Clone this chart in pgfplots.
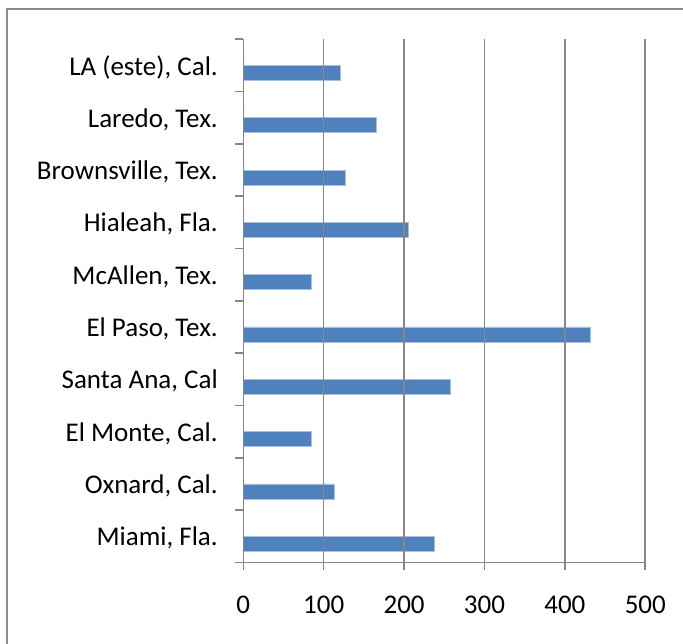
\documentclass[border=0pt]{standalone}
\usepackage{pgfplots}
\pgfplotsset{compat=1.18}
\usepackage{fontspec}
\setmainfont{Carlito}
\definecolor{barblue}{HTML}{4F81BD}
\definecolor{baredge}{HTML}{A9C1DF}
\definecolor{barred}{HTML}{C0504D}
\definecolor{gridgray}{HTML}{868686}
\definecolor{framegray}{HTML}{8C8C8C}
\begin{document}
\begin{tikzpicture}[x=1pt,y=1pt]
\useasboundingbox (0,0) rectangle (683,643);
% chart area frame (only its left and top edges fall inside the page)
\begin{scope}
\clip (0,0) rectangle (683,643);
\draw[framegray, line width=1.6pt] (6.7,-20) -- (6.7,633.7) -- (720,633.7);
\end{scope}
\begin{axis}[
  at={(243.3pt,80.7pt)}, anchor=south west, scale only axis,
  width=402pt, height=523pt,
  xbar, bar width=15pt,
  xmin=0, xmax=500, ymin=-0.5, ymax=9.5,
  xtick={0,100,...,500},
  ytick={0,...,9},
  yticklabels={{Miami, Fla.},{Oxnard, Cal.},{El Monte, Cal.},{Santa Ana, Cal},
    {El Paso, Tex.},{McAllen, Tex.},{Hialeah, Fla.},{Brownsville, Tex.},
    {Laredo, Tex.},{LA (este), Cal.}},
  minor ytick={-0.5,0.5,...,9.5},
  axis x line*=bottom, axis y line*=left,
  axis line style={gridgray, line width=1.6pt, -},
  xmajorgrids, grid style={gridgray, line width=1.6pt},
  axis on top,
  tick align=outside,
  major tick length=8pt, minor tick length=8pt,
  major y tick style={draw=none},
  tick style={gridgray, line width=1.6pt},
  ticklabel style={font=\fontsize{27}{32}\selectfont, text=black},
  yticklabel style={xshift=-14pt, yshift=-2pt},
  xticklabel style={yshift=-22pt},
  /pgf/number format/assume math mode=true,
]
\addplot[fill=barblue, draw=baredge, line width=0.6pt, bar shift=-7.5pt]
  coordinates {(238,0) (113,1) (84,2) (257,3) (432,4) (85,5) (205,6) (127,7) (166,8) (121,9)};
\addplot[fill=barred!40, draw=none, bar shift=7.5pt]
  coordinates {(0.5,0) (0.5,1) (0.5,2) (0.5,3) (0.5,4) (0.5,5) (1,6) (1,7) (1,8) (1,9)};
\end{axis}
\end{tikzpicture}
\end{document}
